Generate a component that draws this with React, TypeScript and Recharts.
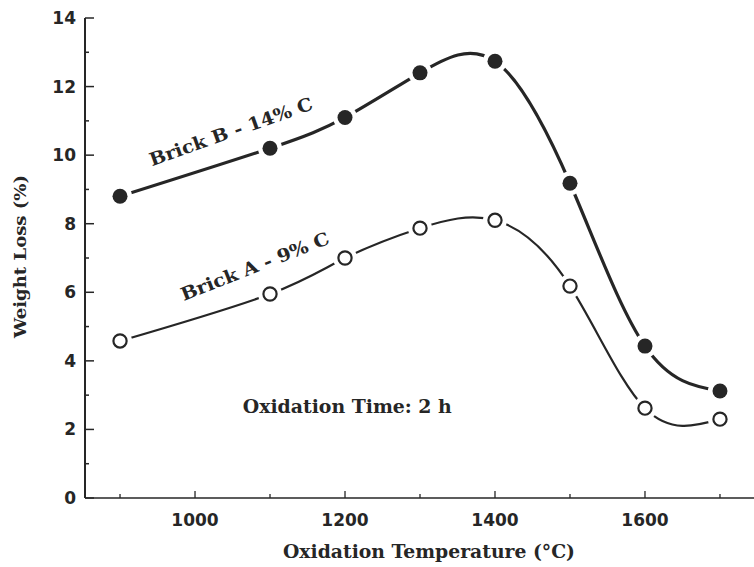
import * as React from 'react';
import { LineChart, Line, XAxis, YAxis, ReferenceDot } from 'recharts';

// Oxidation temperature (°C) and weight loss (%)
const temps = [900, 1100, 1200, 1300, 1400, 1500, 1600, 1700];
const brickB = [8.8, 10.2, 11.1, 12.4, 12.74, 9.18, 4.43, 3.12];
const brickA = [4.58, 5.95, 7.0, 7.87, 8.1, 6.18, 2.62, 2.3];

const xTicks = [900, 1000, 1100, 1200, 1300, 1400, 1500, 1600, 1700];
const xLabels = [1000, 1200, 1400, 1600];
const yTicks = [0, 1, 2, 3, 4, 5, 6, 7, 8, 9, 10, 11, 12, 13, 14];
const yLabels = [0, 2, 4, 6, 8, 10, 12, 14];

const INK = '#262626';
const serif = "'DejaVu Serif', serif";
const digits = "'DejaVu Sans', sans-serif";

const data = temps.map((t, i) => ({ temp: t, b: brickB[i], a: brickA[i] }));

const BottomTick = ({ x, y, payload }: any) => {
  const major = xLabels.includes(payload.value);
  return (
    <g>
      <line x1={x} y1={y} x2={x} y2={y - (major ? 7 : 4)} stroke={INK} strokeWidth={1.3} />
      {major && (
        <text x={x} y={y + 28} textAnchor="middle" fontFamily={digits} fontWeight="bold" fontSize={17} fill={INK}>
          {payload.value}
        </text>
      )}
    </g>
  );
};

const TopTick = ({ x, y, payload }: any) => {
  const major = xLabels.includes(payload.value);
  return <line x1={x} y1={y} x2={x} y2={y + (major ? 8 : 4)} stroke={INK} strokeWidth={1.3} />;
};

const LeftTick = ({ x, y, payload }: any) => {
  const major = yLabels.includes(payload.value);
  return (
    <g>
      <line x1={x} y1={y} x2={x + (major ? 9 : 4)} y2={y} stroke={INK} strokeWidth={1.5} />
      {major && (
        <text x={x - 9} y={y + 6} textAnchor="end" fontFamily={digits} fontWeight="bold" fontSize={17} fill={INK}>
          {payload.value}
        </text>
      )}
    </g>
  );
};

const RightTick = ({ x, y, payload }: any) => {
  const major = yLabels.includes(payload.value);
  return <line x1={x} y1={y} x2={x - (major ? 8 : 4)} y2={y} stroke={INK} strokeWidth={1.3} />;
};

const FilledDot = (p: any) => (
  <g key={`b-${p.index}`}>
    <circle cx={p.cx} cy={p.cy} r={12} fill="#fff" />
    <circle cx={p.cx} cy={p.cy} r={7.5} fill={INK} />
  </g>
);

const OpenDot = (p: any) => (
  <g key={`a-${p.index}`}>
    <circle cx={p.cx} cy={p.cy} r={12} fill="#fff" />
    <circle cx={p.cx} cy={p.cy} r={6.6} fill="#fff" stroke={INK} strokeWidth={2.2} />
  </g>
);

const textStyle = {
  fontFamily: serif,
  fontWeight: 'bold' as const,
  fontSize: 18,
  fill: INK,
  lengthAdjust: 'spacingAndGlyphs',
};

const tiltedLabel = (text: string, angle: number, len: number) => (props: any) => {
  const vb = props.viewBox || {};
  const cx = vb.x + (vb.width || 0) / 2;
  const cy = vb.y + (vb.height || 0) / 2;
  return (
    <text
      x={cx - len / 2}
      y={cy}
      dy={6}
      textLength={len}
      transform={`rotate(${angle} ${cx} ${cy})`}
      {...textStyle}
    >
      {text}
    </text>
  );
};

export default function App() {
  return (
    <div style={{ position: 'absolute', left: 0, top: 0, width: 754, height: 567, overflow: 'hidden', background: '#fff' }}>
      <LineChart width={760} height={567} data={data} margin={{ top: 18, right: 0, bottom: 0, left: 0 }}>
        <XAxis
          dataKey="temp"
          type="number"
          domain={[853.3, 1746.7]}
          ticks={xTicks}
          allowDataOverflow
          height={69}
          tickSize={0}
          tickMargin={0}
          tickLine={false}
          tick={BottomTick}
          axisLine={{ stroke: INK, strokeWidth: 1.6 }}
        />
        <XAxis
          xAxisId="top"
          orientation="top"
          dataKey="temp"
          type="number"
          domain={[853.3, 1746.7]}
          ticks={xTicks}
          allowDataOverflow
          height={0}
          tickSize={0}
          tickMargin={0}
          tickLine={false}
          tick={TopTick}
          axisLine={{ stroke: INK, strokeWidth: 1.6 }}
        />
        <YAxis
          type="number"
          domain={[0, 14]}
          ticks={yTicks}
          width={85}
          tickSize={0}
          tickMargin={0}
          tickLine={false}
          tick={LeftTick}
          axisLine={{ stroke: INK, strokeWidth: 2 }}
        />
        <YAxis
          yAxisId="right"
          orientation="right"
          type="number"
          domain={[0, 14]}
          ticks={yTicks}
          width={5}
          tickSize={0}
          tickMargin={0}
          tickLine={false}
          tick={RightTick}
          axisLine={{ stroke: INK, strokeWidth: 1.6 }}
        />
        <Line
          type="natural"
          dataKey="a"
          stroke={INK}
          strokeWidth={2.2}
          dot={OpenDot}
          activeDot={false}
          isAnimationActive={false}
        />
        <Line
          type="natural"
          dataKey="b"
          stroke={INK}
          strokeWidth={3.2}
          dot={FilledDot}
          activeDot={false}
          isAnimationActive={false}
        />
        <ReferenceDot x={1048} y={10.68} r={0} fill="none" stroke="none" label={tiltedLabel('Brick B - 14% C', -19.5, 172)} />
        <ReferenceDot x={1080} y={6.75} r={0} fill="none" stroke="none" label={tiltedLabel('Brick A - 9% C', -21.5, 158)} />
        <ReferenceDot x={1203} y={2.64} r={0} fill="none" stroke="none" label={tiltedLabel('Oxidation Time: 2 h', 0, 209)} />
        <text x={283} y={558} textLength={292} {...textStyle}>
          Oxidation Temperature (°C)
        </text>
        <text x={26} y={338} textLength={163} transform="rotate(-90 26 338)" {...textStyle} fontSize={17}>
          Weight Loss (%)
        </text>
      </LineChart>
    </div>
  );
}
